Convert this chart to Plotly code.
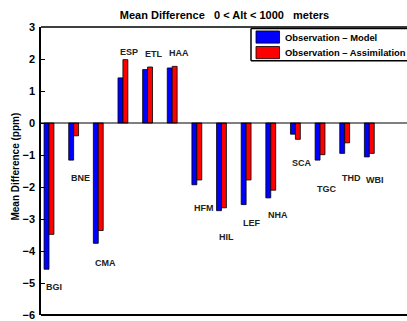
import plotly.graph_objects as go

# Station codes and mean differences (ppm), 0 < Alt < 1000 m
stations = ["BGI", "BNE", "CMA", "ESP", "ETL", "HAA", "HFM",
            "HIL", "LEF", "NHA", "SCA", "TGC", "THD", "WBI"]
obs_minus_model = [-4.57, -1.16, -3.76, 1.41, 1.67, 1.72, -1.93,
                   -2.74, -2.55, -2.34, -0.35, -1.16, -0.95, -1.06]
obs_minus_assim = [-3.48, -0.40, -3.36, 1.98, 1.75, 1.77, -1.78,
                   -2.65, -1.78, -2.10, -0.51, -0.99, -0.62, -0.95]
# vertical placement of each station label (data units)
label_y = [-5.12, -1.73, -4.37, 2.21, 2.16, 2.18, -2.65,
           -3.55, -3.11, -2.89, -1.26, -2.05, -1.72, -1.78]
y_ticks = [-6, -5, -4, -3, -2, -1, 0, 1, 2, 3]
y_ticktext = [f"<b>{'\u2212' if v < 0 else ''}{abs(v)}</b>" for v in y_ticks]

FONT = "Liberation Sans, Arial, Helvetica, sans-serif"
W, H = 407, 321
ML, MR, MT, MB = 41, 0, 27, 3
PW, PH = W - ML - MR, H - MT - MB


def px_x(px):
    return (px - ML) / PW


def px_y(py):
    return (H - MB - py) / PH


x = list(range(1, len(stations) + 1))
unit_px = 24.64
x_lo = 1 - (49 - ML) / unit_px
x_hi = x_lo + PW / unit_px

fig = go.Figure()
fig.add_trace(go.Bar(x=x, y=obs_minus_model, name="Observation \u2013 Model",
                     marker=dict(color="#0000ff", line=dict(color="black", width=0.8)),
                     showlegend=False))
fig.add_trace(go.Bar(x=x, y=obs_minus_assim, name="Observation \u2013 Assimilation",
                     marker=dict(color="#ff0000", line=dict(color="black", width=0.8)),
                     showlegend=False))

annotations = []
for xi, name, ly in zip(x, stations, label_y):
    annotations.append(dict(x=xi - 0.2, y=ly, xref="x", yref="y", text=f"<b>{name}</b>",
                            showarrow=False, xanchor="left", yanchor="middle",
                            font=dict(family=FONT, size=9, color="#222")))

# y-axis title
annotations.append(dict(x=px_x(16), y=px_y(168), xref="paper", yref="paper",
                        text="<b>Mean Difference (ppm)</b>", textangle=-90,
                        showarrow=False, xanchor="center", yanchor="middle",
                        font=dict(family=FONT, size=10, color="black")))

shapes = [
    # keep the right-hand strip clean; the axes box continues past the canvas
    dict(type="rect", xref="paper", yref="paper", x0=px_x(403), x1=1.0,
         y0=-0.005, y1=1.0, line=dict(width=0), fillcolor="white", layer="above"),
    # axes frame: top and bottom edges, plus the zero line
    dict(type="line", xref="paper", yref="paper", x0=0, x1=1, y0=1, y1=1,
         line=dict(color="black", width=1.5), layer="above"),
    dict(type="line", xref="paper", yref="paper", x0=0, x1=1, y0=0, y1=0,
         line=dict(color="black", width=2), layer="above"),
    dict(type="line", xref="paper", yref="y", x0=0, x1=1, y0=0, y1=0,
         line=dict(color="black", width=1), layer="above"),
]
# legend box (white fill, then left/top/bottom borders)
lg_l, lg_t, lg_b = 251, 28.5, 61
shapes.append(dict(type="rect", xref="paper", yref="paper", x0=px_x(lg_l), x1=1,
                   y0=px_y(lg_b), y1=px_y(lg_t), line=dict(width=0),
                   fillcolor="white", layer="above"))
for x0, y0, x1, y1 in [(lg_l, lg_t, W, lg_t), (lg_l, lg_b, W, lg_b), (lg_l, lg_t, lg_l, lg_b)]:
    shapes.append(dict(type="line", xref="paper", yref="paper",
                       x0=px_x(x0), x1=px_x(x1), y0=px_y(y0), y1=px_y(y1),
                       line=dict(color="black", width=1.5), layer="above"))
legend_items = [("Observation \u2013 Model", "#0000ff", 31, 43.3),
                ("Observation \u2013 Assimilation", "#ff0000", 46.7, 59)]
for text, color, top, bot in legend_items:
    shapes.append(dict(type="rect", xref="paper", yref="paper",
                       x0=px_x(256), x1=px_x(279.5), y0=px_y(bot), y1=px_y(top),
                       line=dict(color="black", width=0.8), fillcolor=color,
                       layer="above"))
    annotations.append(dict(x=px_x(282.5), y=px_y((top + bot) / 2), xref="paper",
                            yref="paper", text=f"<b>{text}</b>", showarrow=False,
                            xanchor="left", yanchor="middle",
                            font=dict(family=FONT, size=9.4, color="black")))

fig.update_layout(
    width=W, height=H,
    margin=dict(l=ML, r=MR, t=MT, b=MB),
    paper_bgcolor="white", plot_bgcolor="white",
    barmode="group", bargap=0.6, bargroupgap=0,
    title=dict(text="<b>Mean Difference\u00a0\u00a0\u00a00 &lt; Alt &lt; 1000\u00a0\u00a0\u00a0meters</b>",
               x=px_x(224.5), xref="paper", xanchor="center",
               y=1 - 15 / H, yref="container", yanchor="middle",
               font=dict(family=FONT, size=11, color="black")),
    xaxis=dict(range=[x_lo, x_hi], showticklabels=False, ticks="",
               showgrid=False, zeroline=False, showline=False),
    yaxis=dict(range=[-6, 3], tickmode="array", tickvals=y_ticks, ticktext=y_ticktext,
               ticks="inside", ticklen=4,
               tickcolor="black", showgrid=False, showline=True,
               linecolor="black", linewidth=1.5, mirror=False,
               zeroline=False,
               ticklabeloverflow="allow",
               tickfont=dict(family=FONT, size=11, color="black"),
               ticklabelstandoff=2),
    annotations=annotations,
    shapes=shapes,
)

fig.write_html("out.html", config={"displayModeBar": False})
